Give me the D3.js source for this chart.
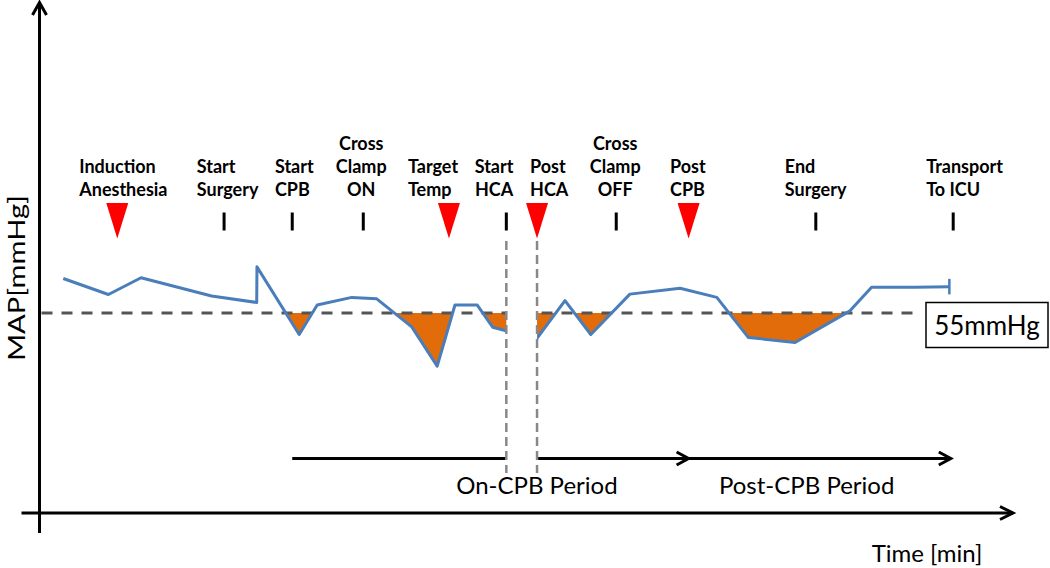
<!DOCTYPE html>
<html><head><meta charset="utf-8">
<script src="https://cdn.jsdelivr.net/npm/d3@7"></script>
<style>body{margin:0;background:#fff}svg{display:block}</style>
</head><body><svg id="c" width="1050" height="568"></svg>
<script>
// ---- Data ----
const mapTimes  = [9.7, 28.5, 42.1, 71.5, 90.3, 90.4, 108.0, 115.5, 129.9, 140.3, 154.9, 165.5, 172.9, 182.2, 188.6, 194.2,
                   207.0, 218.75, 229.5, 245.8, 266.7, 282.0, 295.1, 314.6, 337.5, 346.5, 364.6, 378.9];
const mapValues = [64.5, 60.1, 64.7, 59.7, 57.9, 67.7, 49.1, 57.2, 59.3, 58.9, 51.2, 40.4, 57.2, 57.2, 51.1, 50.1,
                   48.0, 58.4, 49.1, 60.2, 61.8, 59.3, 48.3, 46.9, 55.6, 62.1, 62.1, 62.2];
const threshold = 55;
const thresholdLabel = "55mmHg";
const eventNames = [["Induction","Anesthesia"],["Start","Surgery"],["Start","CPB"],["Cross","Clamp","ON"],["Target","Temp"],
                    ["Start","HCA"],["Post","HCA"],["Cross","Clamp","OFF"],["Post","CPB"],["End","Surgery"],["Transport","To ICU"]];
const eventTimes = [32.2, 76.7, 105.1, 134.7, 170.4, 194.3, 207.1, 240.1, 270.25, 323.25, 380.5];
const eventMarkers = ["triangle","tick","tick","tick","triangle","tick","triangle","tick","triangle","tick","tick"];
const periodNames = ["On-CPB Period", "Post-CPB Period"];
const periodStart = [105.1, 270.25];
const periodEnd   = [270.25, 379.5];
const xTitle = "Time [min]";
const yTitle = "MAP[mmHg]";

// ---- Layout / style ----
const W = 1050, H = 568;
const svg = d3.select("#c");
const x = d3.scaleLinear().domain([0, 400]).range([40, 1000]);
const y = d3.scaleLinear().domain([0, 140]).range([513, 4]);
const labelLayout = [
  {a:"start", dx:-38}, {a:"start", dx:-27.3}, {a:"start", dx:-17.3}, {a:"middle", dx:-2},
  {a:"start", dx:-41}, {a:"middle", dx:-12.3}, {a:"start", dx:-7}, {a:"middle", dx:-1},
  {a:"start", dx:-18.6}, {a:"start", dx:-31}, {a:"start", dx:-27}
];
const periodNudge = [46.5, -13];
const BLUE = "#4A7EBB", ORANGE = "#E36C0A", RED = "#FF0000";
const FONT = "Lato, 'Open Sans', sans-serif";

const pts = mapTimes.map((t, i) => ({t, v: mapValues[i]}));
const yT = y(threshold);

// clip for area below threshold
svg.append("defs").append("clipPath").attr("id", "below")
  .append("rect").attr("x", 0).attr("y", yT).attr("width", W).attr("height", H - yT);

// orange fill (line below threshold)
svg.append("path").datum(pts)
  .attr("clip-path", "url(#below)")
  .attr("fill", ORANGE)
  .attr("d", d3.area().x(d => x(d.t)).y0(yT).y1(d => y(d.v)));

// threshold dashed line
svg.append("line")
  .attr("x1", 41.5).attr("x2", x(365)).attr("y1", yT).attr("y2", yT)
  .attr("stroke", "#555").attr("stroke-width", 3).attr("stroke-dasharray", "11,9");

// MAP line
svg.append("path").datum(pts)
  .attr("fill", "none").attr("stroke", BLUE).attr("stroke-width", 3).attr("stroke-linejoin", "round")
  .attr("d", d3.line().x(d => x(d.t)).y(d => y(d.v)));
// end cap
const last = pts[pts.length - 1];
svg.append("line").attr("x1", x(last.t)).attr("x2", x(last.t))
  .attr("y1", y(last.v) - 8).attr("y2", y(last.v) + 7.5)
  .attr("stroke", BLUE).attr("stroke-width", 2.5);

// threshold label box
const box = svg.append("g");
box.append("rect").attr("x", 926).attr("y", 302.5).attr("width", 122).attr("height", 45)
  .attr("fill", "#fff").attr("stroke", "#000").attr("stroke-width", 1.5);
box.append("text").attr("x", 987).attr("y", 334.5).attr("text-anchor", "middle")
  .attr("font-family", FONT).attr("font-size", 26).attr("fill", "#000").text(thresholdLabel);

// period arrows
function arrow(x1, x2, yy, head) {
  svg.append("line").attr("x1", x1).attr("x2", x2).attr("y1", yy).attr("y2", yy)
    .attr("stroke", "#000").attr("stroke-width", 3);
  svg.append("path").attr("d", `M${x2 - head},${yy - 6.5}L${x2},${yy}L${x2 - head},${yy + 6.5}`)
    .attr("fill", "none").attr("stroke", "#000").attr("stroke-width", 3).attr("stroke-linejoin", "miter");
}
const yArrow = 458.5;
periodNames.forEach((name, i) => {
  arrow(x(periodStart[i]), x(periodEnd[i]), yArrow, 12);
  svg.append("text")
    .attr("x", (x(periodStart[i]) + x(periodEnd[i])) / 2 + periodNudge[i]).attr("y", 494)
    .attr("text-anchor", "middle").attr("font-family", FONT).attr("font-size", 24).attr("fill", "#000")
    .text(name);
});

// HCA gap (white band) and dashed boundaries
const xHs = x(eventTimes[5]), xHe = x(eventTimes[6]);
svg.append("rect").attr("x", xHs).attr("y", 240).attr("width", xHe - xHs).attr("height", 233).attr("fill", "#fff");
[xHs, xHe].forEach(xx => {
  svg.append("line").attr("x1", xx).attr("x2", xx).attr("y1", 241).attr("y2", 473)
    .attr("stroke", "#888").attr("stroke-width", 2.5).attr("stroke-dasharray", "9,5");
});

// axes
svg.append("line").attr("x1", 39.5).attr("x2", 39.5).attr("y1", 2).attr("y2", 533)
  .attr("stroke", "#000").attr("stroke-width", 3);
svg.append("path").attr("d", "M32.5,15L39.5,2.5L46.5,15").attr("fill", "none").attr("stroke", "#000").attr("stroke-width", 3);
svg.append("line").attr("x1", 21.5).attr("x2", 1013).attr("y1", 513).attr("y2", 513)
  .attr("stroke", "#000").attr("stroke-width", 3);
svg.append("path").attr("d", "M1000,506.5L1013,513L1000,519.5").attr("fill", "none").attr("stroke", "#000").attr("stroke-width", 3);

svg.append("text").attr("x", 927).attr("y", 561.5).attr("text-anchor", "middle")
  .attr("font-family", FONT).attr("font-size", 24).attr("fill", "#000").text(xTitle);
svg.append("text").attr("transform", "translate(24.5,278) rotate(-90)").attr("text-anchor", "middle")
  .attr("font-family", FONT).attr("font-size", 23).attr("fill", "#000")
  .attr("textLength", 166).attr("lengthAdjust", "spacingAndGlyphs").text(yTitle);

// events: markers and labels
eventTimes.forEach((t, i) => {
  const xx = x(t);
  if (eventMarkers[i] === "triangle") {
    svg.append("path").attr("d", `M${xx - 11},203L${xx + 11},203L${xx},238.5Z`).attr("fill", RED);
  } else {
    svg.append("line").attr("x1", xx).attr("x2", xx).attr("y1", 212.5).attr("y2", 230.5)
      .attr("stroke", "#000").attr("stroke-width", 3);
  }
  const lines = eventNames[i];
  const L = labelLayout[i];
  const txt = svg.append("text").attr("font-family", FONT).attr("font-weight", "bold").attr("font-size", 18)
    .attr("fill", "#000").attr("text-anchor", L.a);
  lines.forEach((s, j) => {
    txt.append("tspan").attr("x", xx + L.dx).attr("y", 195.5 - (lines.length - 1 - j) * 23).text(s);
  });
});
</script>
</body></html>
